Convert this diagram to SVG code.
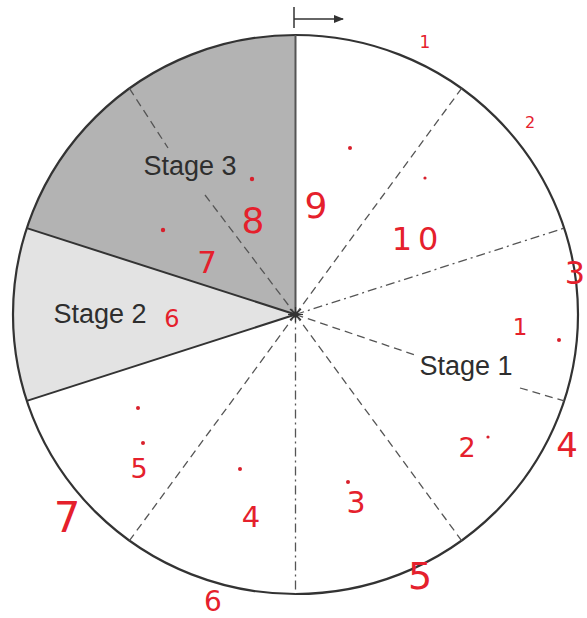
<svg xmlns="http://www.w3.org/2000/svg" width="587" height="618" viewBox="0 0 587 618">
<style>
.stage{font-family:"Liberation Sans",Arial,sans-serif;font-size:27px;fill:#2e2e2e;text-anchor:middle}
.hand{font-family:"DejaVu Sans","Liberation Sans",sans-serif;fill:#e5202c;text-anchor:middle}
.dot{fill:#d8202c}
.solid{stroke:#333;stroke-width:2;fill:none}
.dash{stroke:#555;stroke-width:1.3;stroke-dasharray:8 5;fill:none}
.dashdot{stroke:#555;stroke-width:1.3;stroke-dasharray:9 4 2 4;fill:none}
</style>
<defs>
<marker id="ah" markerWidth="10" markerHeight="8" refX="9" refY="4" orient="auto" markerUnits="userSpaceOnUse">
<path d="M0,0 L10,4 L0,8 Z" fill="#333"/>
</marker>
</defs>
<rect width="587" height="618" fill="#ffffff"/>

<g id="stage3-sector">
<path d="M295.5,314.5 L26.8,228.1 A282.5,279.5 0 0 1 295.5,35 Z" fill="#b3b3b3"/>
</g>
<g id="stage2-sector">
<path d="M295.5,314.5 L26.8,400.9 A282.5,279.5 0 0 1 26.8,228.1 Z" fill="#e3e3e3"/>
</g>
<g id="circle">
<ellipse cx="295.5" cy="314.5" rx="282.5" ry="279.5" fill="none" stroke="#333" stroke-width="2.2"/>
</g>

<g id="connectors">
<line class="solid" x1="295.5" y1="314.5" x2="295.5" y2="35" stroke-width="3" style="stroke:#555"/>
<line class="solid" x1="295.5" y1="314.5" x2="26.8" y2="228.1"/>
<line class="solid" x1="295.5" y1="314.5" x2="26.8" y2="400.9"/>
<line class="dash" x1="295.5" y1="314.5" x2="461.6" y2="88.4"/>
<line class="dashdot" x1="295.5" y1="314.5" x2="564.2" y2="228.1"/>
<line class="dash" x1="295.5" y1="314.5" x2="415" y2="355"/>
<line class="dash" x1="520" y1="388" x2="564.2" y2="400.9"/>
<line class="dash" x1="295.5" y1="314.5" x2="461.6" y2="540.6"/>
<line class="dashdot" x1="295.5" y1="314.5" x2="295.5" y2="594"/>
<line class="dash" x1="295.5" y1="314.5" x2="129.4" y2="540.6"/>
<line class="dash" x1="129.4" y1="88.4" x2="168" y2="148"/>
<line class="dash" x1="205" y1="195" x2="295.5" y2="314.5"/>
</g>

<g id="center" stroke="#333" stroke-width="1.2">
<line x1="288" y1="314.5" x2="303" y2="314.5"/>
<line x1="295.5" y1="307" x2="295.5" y2="322"/>
<line x1="290" y1="309" x2="301" y2="320"/>
<line x1="290" y1="320" x2="301" y2="309"/>
<circle cx="295.5" cy="314.5" r="2.5" fill="#333"/>
</g>

<g id="direction-arrow">
<line x1="294" y1="7" x2="294" y2="28" stroke="#333" stroke-width="1.5"/>
<line x1="294" y1="19" x2="343" y2="19" stroke="#333" stroke-width="1.5" marker-end="url(#ah)"/>
</g>

<g id="stage-labels">
<text class="stage" x="190" y="175">Stage 3</text>
<text class="stage" x="100" y="323">Stage 2</text>
<text class="stage" x="466" y="375">Stage 1</text>
</g>

<g id="handwritten">
<text class="hand" x="425" y="48" font-size="17">1</text>
<text class="hand" x="530" y="128" font-size="16">2</text>
<text class="hand" x="575" y="284" font-size="32">3</text>
<text class="hand" x="520" y="335" font-size="23">1</text>
<text class="hand" x="567" y="457" font-size="34">4</text>
<text class="hand" x="467" y="457" font-size="27">2</text>
<text class="hand" x="356" y="513" font-size="30">3</text>
<text class="hand" x="420" y="589" font-size="38">5</text>
<text class="hand" x="213" y="611" font-size="28">6</text>
<text class="hand" x="67" y="532" font-size="42">7</text>
<text class="hand" x="139" y="478" font-size="27">5</text>
<text class="hand" x="251" y="527" font-size="29">4</text>
<text class="hand" x="172" y="327" font-size="24">6</text>
<text class="hand" x="207" y="273" font-size="31">7</text>
<text class="hand" x="253" y="233" font-size="36">8</text>
<text class="hand" x="316" y="218" font-size="36">9</text>
<text class="hand" x="418" y="250" font-size="32" letter-spacing="6">10</text>
</g>

<g id="marks">
<circle class="dot" cx="350" cy="148" r="2"/>
<circle class="dot" cx="425" cy="178" r="1.6"/>
<circle class="dot" cx="559" cy="340" r="2"/>
<circle class="dot" cx="488" cy="437" r="1.6"/>
<circle class="dot" cx="348" cy="482" r="2"/>
<circle class="dot" cx="240" cy="469" r="2"/>
<circle class="dot" cx="138" cy="408" r="2"/>
<circle class="dot" cx="143" cy="443" r="2"/>
<circle class="dot" cx="252" cy="179" r="2.2"/>
<circle class="dot" cx="163" cy="230" r="2.2"/>
</g>
</svg>
